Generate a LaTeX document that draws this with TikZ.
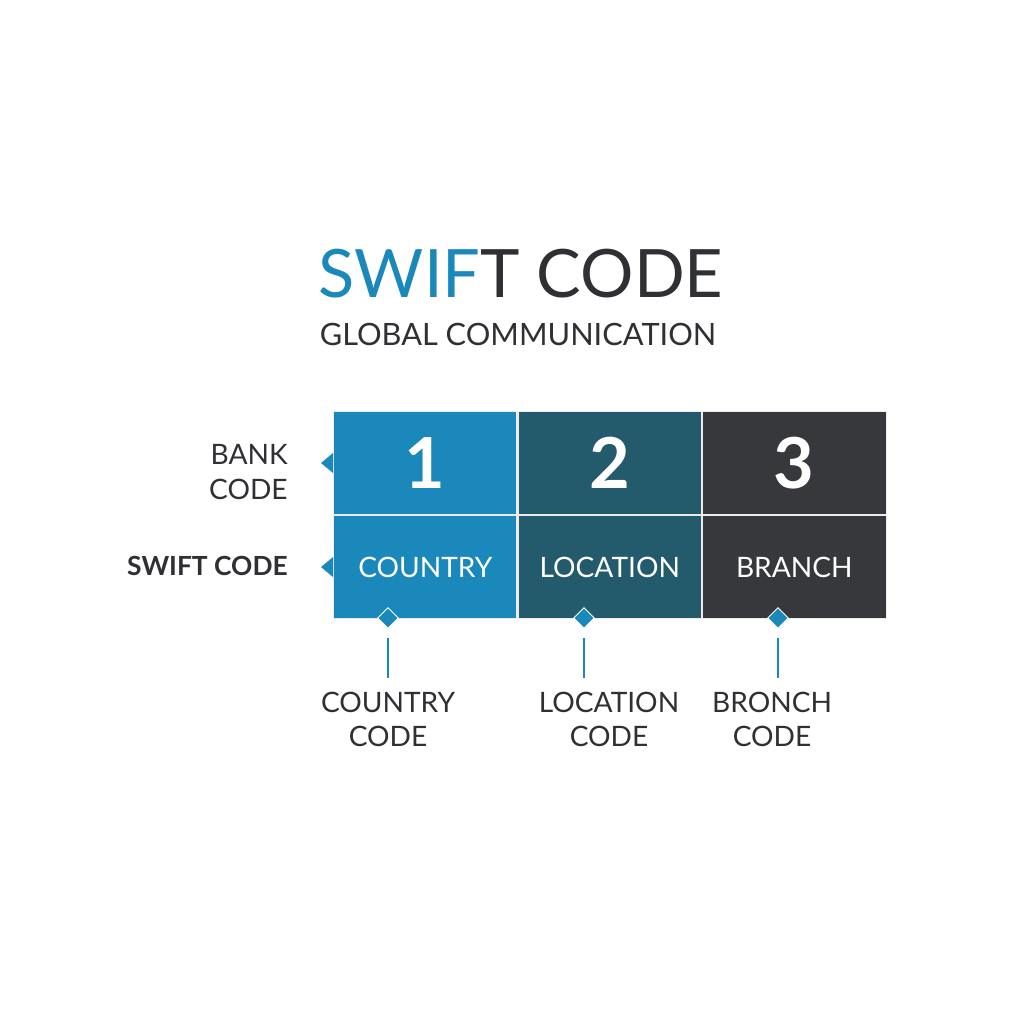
\documentclass[tikz,border=0pt]{standalone}
\usepackage{fontspec}
\setmainfont{Lato}
\usetikzlibrary{shapes.geometric, positioning}
\definecolor{swiftblue}{HTML}{1A88BB}
\definecolor{swiftteal}{HTML}{235A6C}
\definecolor{swiftgray}{HTML}{36383B}
\definecolor{inkdark}{HTML}{2E3033}
\tikzstyle{cell} = [rectangle, minimum width=3.67cm, minimum height=2.06cm, inner sep=0pt, draw=white!85!gray, line width=0.6pt, text=white]
\tikzstyle{pin} = [diamond, fill=swiftblue, draw=white, line width=0.5pt, inner sep=0pt, minimum width=0.42cm, minimum height=0.42cm]
\tikzstyle{tick} = [swiftblue, line width=1.3pt]
\tikzstyle{caption} = [align=center, text=inkdark, font=\fontsize{16}{19.5}\selectfont, inner sep=0pt]
\tikzstyle{sidelabel} = [align=right, text=inkdark, font=\fontsize{16}{19.5}\selectfont, inner sep=0pt, anchor=east]

\begin{document}
\begin{tikzpicture}[x=0.02cm, y=-0.02cm]
    \useasboundingbox[fill=white] (0,0) rectangle (1024,1024);
    % titles
    \node (title) [text=inkdark, font=\fontsize{38}{40}\selectfont, inner sep=0pt] at (521,274) {{\color{swiftblue}SWIF}T CODE};
    \node (subtitle) [text=inkdark, font=\fontsize{17.5}{20}\selectfont, inner sep=0pt] at (518,334) {GLOBAL COMMUNICATION};
    % cells
    \node (num1) [cell, fill=swiftblue, anchor=north west] at (333,411) {\fontsize{40}{40}\selectfont\bfseries 1};
    \node (num2) [cell, fill=swiftteal, right=0pt of num1] {\fontsize{40}{40}\selectfont\bfseries 2};
    \node (num3) [cell, fill=swiftgray, right=0pt of num2] {\fontsize{40}{40}\selectfont\bfseries 3};
    \node (country) [cell, fill=swiftblue, below=0pt of num1] {\fontsize{16}{20}\selectfont COUNTRY};
    \node (location) [cell, fill=swiftteal, below=0pt of num2] {\fontsize{16}{20}\selectfont LOCATION};
    \node (branch) [cell, fill=swiftgray, below=0pt of num3] {\fontsize{16}{20}\selectfont BRANCH};
    % notches
    \fill[swiftblue] (num1.west) ++(0,-10) -- ++(-12,10) -- ++(12,10) -- cycle;
    \fill[swiftblue] (country.west) ++(0,-10) -- ++(-12,10) -- ++(12,10) -- cycle;
    % side labels
    \node (bank) [sidelabel] at (288,472) {BANK\\CODE};
    \node (swift) [sidelabel, font=\fontsize{15}{19.5}\selectfont\bfseries] at (288,566) {SWIFT CODE};
    % pins
    \node (pin1) [pin] at (388,618) {};
    \node (pin2) [pin] at (584,618) {};
    \node (pin3) [pin] at (778,618) {};
    \coordinate (end1) at (388,678);
    \coordinate (end2) at (584,678);
    \coordinate (end3) at (778,678);
    \draw[tick] ([yshift=-0.19cm]pin1.south) -- (end1);
    \draw[tick] ([yshift=-0.19cm]pin2.south) -- (end2);
    \draw[tick] ([yshift=-0.19cm]pin3.south) -- (end3);
    % captions
    \node (cap1) [caption, anchor=north] at (388,692) {COUNTRY\\CODE};
    \node (cap2) [caption, anchor=north] at (609,692) {LOCATION\\CODE};
    \node (cap3) [caption, anchor=north] at (772,692) {BRONCH\\CODE};
\end{tikzpicture}
\end{document}
